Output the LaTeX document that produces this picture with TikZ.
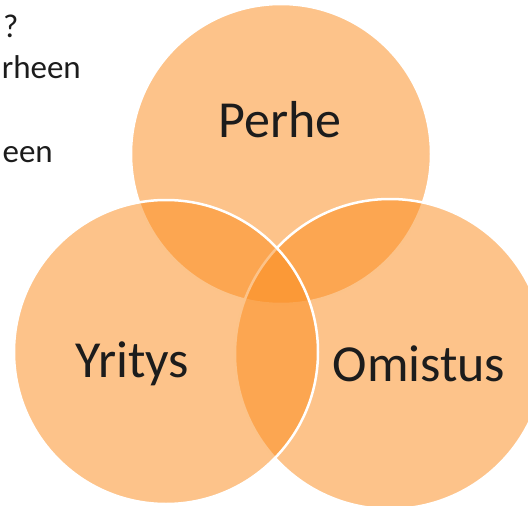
\documentclass[tikz,border=0pt]{standalone}
\usepackage{fontspec}
\setmainfont{Carlito}
\definecolor{vennorange}{RGB}{251,140,30}
\definecolor{inkdark}{RGB}{28,28,28}
\begin{document}
\begin{tikzpicture}[x=1pt,y=-1pt,
  venn/.style={circle, draw=white, line width=2.5pt, fill=vennorange, fill opacity=0.52, inner sep=0pt, outer sep=0pt},
  biglabel/.style={font=\fontsize{52}{62}\selectfont, text=inkdark, anchor=base, inner sep=0pt},
  sidetext/.style={font=\fontsize{33}{40}\selectfont, text=inkdark, anchor=base east, inner sep=0pt}]
\useasboundingbox (0,0) rectangle (528,506);
\clip (0,0) rectangle (528,506);
\node[venn, minimum size=300pt] (perhecircle) at (281,154) {};
\node[venn, minimum size=310pt] (omistuscircle) at (390,354) {};
\node[venn, minimum size=304pt] (yrityscircle) at (166,352) {};
\node[biglabel] (perhe) at (280,137) {Perhe};
\node[biglabel] (yritys) at (132,377) {Yritys};
\node[biglabel] (omistus) at (419,381) {Omistus};
\node[sidetext, anchor=base west] (q) at (3,37) {?};
\node[sidetext] (rheen) at (81,78) {rheen};
\node[sidetext] (een) at (53,162) {een};
\end{tikzpicture}
\end{document}
